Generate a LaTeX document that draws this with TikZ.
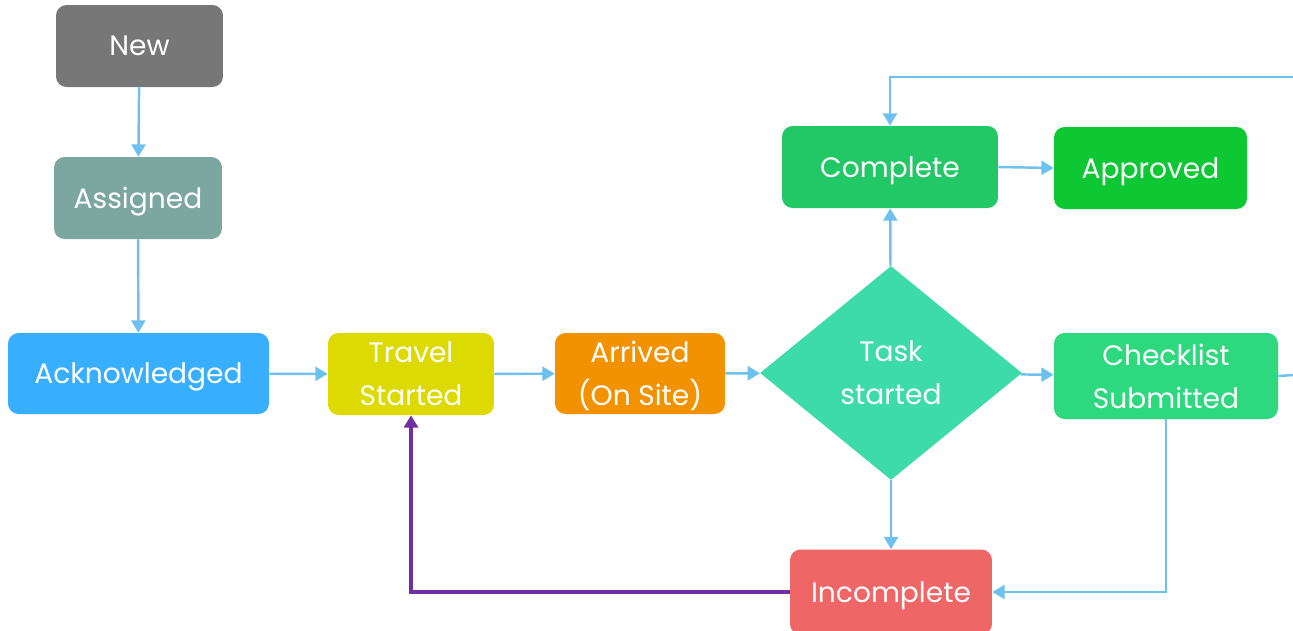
\documentclass[tikz,border=0pt]{standalone}
\usepackage{fontspec}
\setmainfont{Poppins}
\usetikzlibrary{shapes.geometric,arrows.meta}

\definecolor{cNew}{HTML}{777777}
\definecolor{cAssigned}{HTML}{7BA7A0}
\definecolor{cAck}{HTML}{38AEFF}
\definecolor{cTravel}{HTML}{DCDA00}
\definecolor{cArrived}{HTML}{F39200}
\definecolor{cTask}{HTML}{3DDBA8}
\definecolor{cCheck}{HTML}{2ED87E}
\definecolor{cComplete}{HTML}{22C866}
\definecolor{cApproved}{HTML}{0DC833}
\definecolor{cIncomplete}{HTML}{EE6666}
\definecolor{cLink}{HTML}{6EC1EE}
\definecolor{cBack}{HTML}{7030A0}

\tikzset{
    state/.style={fill=#1, draw=none, rounded corners=6pt, text=white,
        align=center, font=\fontsize{16}{24.5}\selectfont, inner sep=0pt,
        text depth=0pt},
    decision/.style={diamond, fill=#1, draw=none, text=white, align=center,
        font=\fontsize{16}{24.5}\selectfont, inner sep=0pt, text depth=0pt},
    link/.style={draw=cLink, line width=1.4pt, -{Triangle[width=8pt,length=7pt]}},
    backlink/.style={link, draw=cBack, line width=1.8pt}
}

\begin{document}
\begin{tikzpicture}[x=0.02cm, y=-0.02cm]
        \useasboundingbox (0,0) rectangle (1293,630);
        % left column
        \node[state=cNew, minimum width=3.34cm, minimum height=1.64cm] (new) at (139.5,46) {New};
        \node[state=cAssigned, minimum width=3.36cm, minimum height=1.64cm] (assigned) at (138,198) {Assigned};
        \node[state=cAck, minimum width=5.22cm, minimum height=1.62cm] (ack) at (138.5,373.5) {Acknowledged};
        % main row
        \node[state=cTravel, minimum width=3.32cm, minimum height=1.64cm] (travel) at (411,374) {Travel\\Started};
        \node[state=cArrived, minimum width=3.40cm, minimum height=1.62cm] (arrived) at (640,373.5) {Arrived\\(On Site)};
        \node[decision=cTask, minimum width=5.24cm, minimum height=4.28cm] (task) at (891,373) {Task\\started};
        \node[state=cCheck, minimum width=4.48cm, minimum height=1.72cm] (check) at (1166,376) {Checklist\\Submitted};
        % outcomes
        \node[state=cComplete, minimum width=4.32cm, minimum height=1.64cm] (complete) at (890,167) {Complete};
        \node[state=cApproved, minimum width=3.86cm, minimum height=1.64cm] (approved) at (1150.5,168) {Approved};
        \node[state=cIncomplete, minimum width=4.04cm, minimum height=1.70cm] (incomplete) at (891,592) {Incomplete};
        % loose ends at the right border
        \coordinate (outtop) at (1293,77);
        \coordinate (outmid) at (1293,375);

        % connectors
        \draw[link] (new) -- (assigned);
        \draw[link] (assigned) -- (ack);
        \draw[link] (ack) -- (travel);
        \draw[link] (travel) -- (arrived);
        \draw[link] (arrived) -- (task);
        \draw[link] (task) -- (check);
        \draw[link] (task) -- (complete);
        \draw[link] (task) -- (incomplete);
        \draw[link] (complete.east) -- (approved.west);
        \draw[link, -] (check.east) -- (outmid);
        \draw[link] (outtop) -| (complete.north);
        \draw[link] (check.south) |- (incomplete.east);
        \draw[backlink] (incomplete.west) -| (travel.south);
    \end{tikzpicture}
\end{document}
